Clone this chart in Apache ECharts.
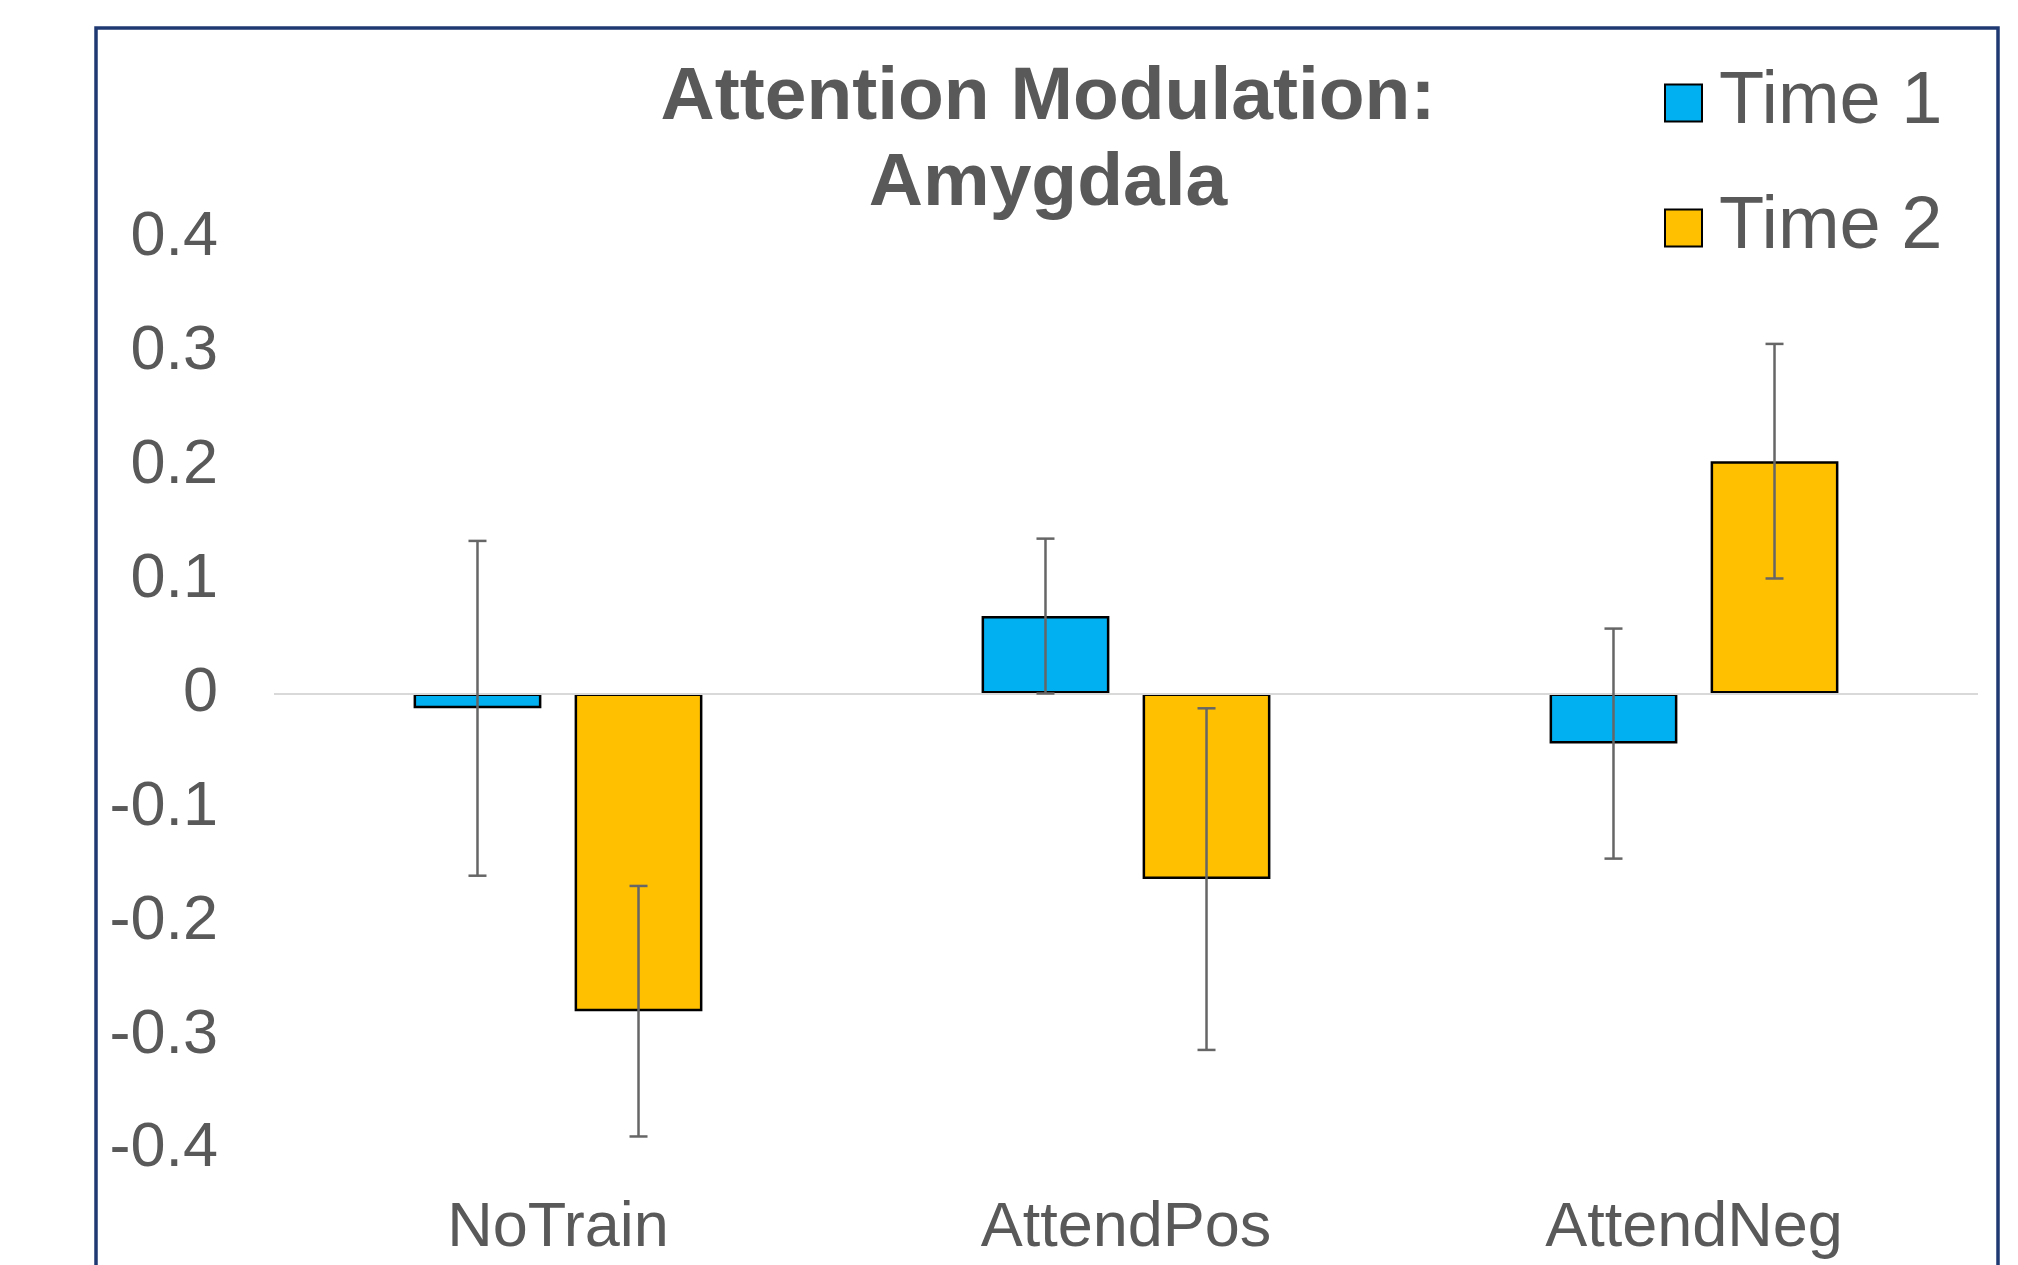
<!DOCTYPE html>
<html>
<head>
<meta charset="utf-8">
<script src="https://cdn.jsdelivr.net/npm/echarts@6/dist/echarts.min.js"></script>
<style>
html,body{margin:0;padding:0;background:#fff;}
#chart{width:2018px;height:1265px;}
</style>
</head>
<body>
<div id="chart"></div>
<script>
var categories = ['NoTrain', 'AttendPos', 'AttendNeg'];
var seriesNames = ['Time 1', 'Time 2'];
var time1 = [-0.013, 0.068, -0.044];
var time2 = [-0.279, -0.163, 0.204];
var err1 = [0.147, 0.068, 0.101];
var err2 = [0.110, 0.150, 0.103];
var yTicks = [-0.4, -0.3, -0.2, -0.1, 0, 0.1, 0.2, 0.3, 0.4];

var FONT = '"Liberation Sans", Arial, sans-serif';
var TEXT = '#595959';
var BAR_W = 0.225, BAR_GAP = 0.26;

function errData(vals, errs) {
  return vals.map(function (v, i) { return [i, v - errs[i], v + errs[i]]; });
}
function errSeries(vals, errs, sign) {
  return {
    type: 'custom',
    silent: true,
    z: 5,
    data: errData(vals, errs),
    encode: { x: 0, y: [1, 2] },
    renderItem: function (params, api) {
      var band = api.size([1, 0])[0];
      var off = sign * band * BAR_W * (1 + BAR_GAP) / 2;
      var lo = api.coord([api.value(0), api.value(1)]);
      var hi = api.coord([api.value(0), api.value(2)]);
      var x = lo[0] + off;
      var cap = 9;
      var st = { stroke: '#666666', lineWidth: 2.5 };
      return {
        type: 'group',
        children: [
          { type: 'line', shape: { x1: x, y1: lo[1], x2: x, y2: hi[1] }, style: st },
          { type: 'line', shape: { x1: x - cap, y1: lo[1], x2: x + cap, y2: lo[1] }, style: st },
          { type: 'line', shape: { x1: x - cap, y1: hi[1], x2: x + cap, y2: hi[1] }, style: st }
        ]
      };
    }
  };
}

var chart = echarts.init(document.getElementById('chart'), null, { renderer: 'canvas' });
chart.setOption({
  backgroundColor: '#ffffff',
  animation: false,
  graphic: [{
    type: 'rect',
    shape: { x: 96, y: 28, width: 1902, height: 1300 },
    style: { fill: 'none', stroke: '#1F3A73', lineWidth: 3.5 },
    z: 100
  }],
  title: {
    text: 'Attention Modulation:\nAmygdala',
    left: 1043,
    top: 50,
    textAlign: 'center',
    textStyle: {
      fontFamily: FONT, fontSize: 75, fontWeight: 'bold', color: TEXT, lineHeight: 86
    }
  },
  legend: {
    orient: 'vertical',
    left: 1659,
    top: 61,
    itemWidth: 37,
    itemHeight: 37,
    itemGap: 51,
    icon: 'rect',
    data: seriesNames,
    textStyle: {
      fontFamily: FONT, fontSize: 74, color: TEXT, lineHeight: 73,
      padding: [0, 0, 0, 12]
    }
  },
  grid: { left: 274, right: 40, top: 238, bottom: 116 },
  xAxis: {
    type: 'category',
    data: categories,
    axisLine: { show: false, onZero: false },
    axisTick: { show: false },
    splitLine: { show: false },
    axisLabel: { fontFamily: FONT, fontSize: 63, color: TEXT, margin: 48 }
  },
  yAxis: {
    type: 'value',
    min: -0.4,
    max: 0.4,
    interval: 0.1,
    axisLine: { show: false },
    axisTick: { show: false },
    splitLine: { show: false },
    axisLabel: {
      fontFamily: FONT, fontSize: 63, color: TEXT, margin: 56,
      formatter: function (v) {
        var r = Math.round(v * 10) / 10;
        return yTicks.indexOf(r) >= 0 ? String(r) : '';
      }
    }
  },
  series: [
    {
      name: seriesNames[0],
      type: 'bar',
      data: time1,
      barWidth: (BAR_W * 100) + '%',
      barGap: (BAR_GAP * 100) + '%',
      itemStyle: { color: '#00B0F0', borderColor: '#000000', borderWidth: 2.5 },
      markLine: {
        silent: true,
        symbol: 'none',
        label: { show: false },
        lineStyle: { color: '#D9D9D9', width: 2, type: 'solid' },
        data: [{ yAxis: 0 }]
      }
    },
    {
      name: seriesNames[1],
      type: 'bar',
      data: time2,
      barWidth: (BAR_W * 100) + '%',
      barGap: (BAR_GAP * 100) + '%',
      itemStyle: { color: '#FFC000', borderColor: '#000000', borderWidth: 2.5 }
    },
    errSeries(time1, err1, -1),
    errSeries(time2, err2, 1)
  ]
});
</script>
</body>
</html>
